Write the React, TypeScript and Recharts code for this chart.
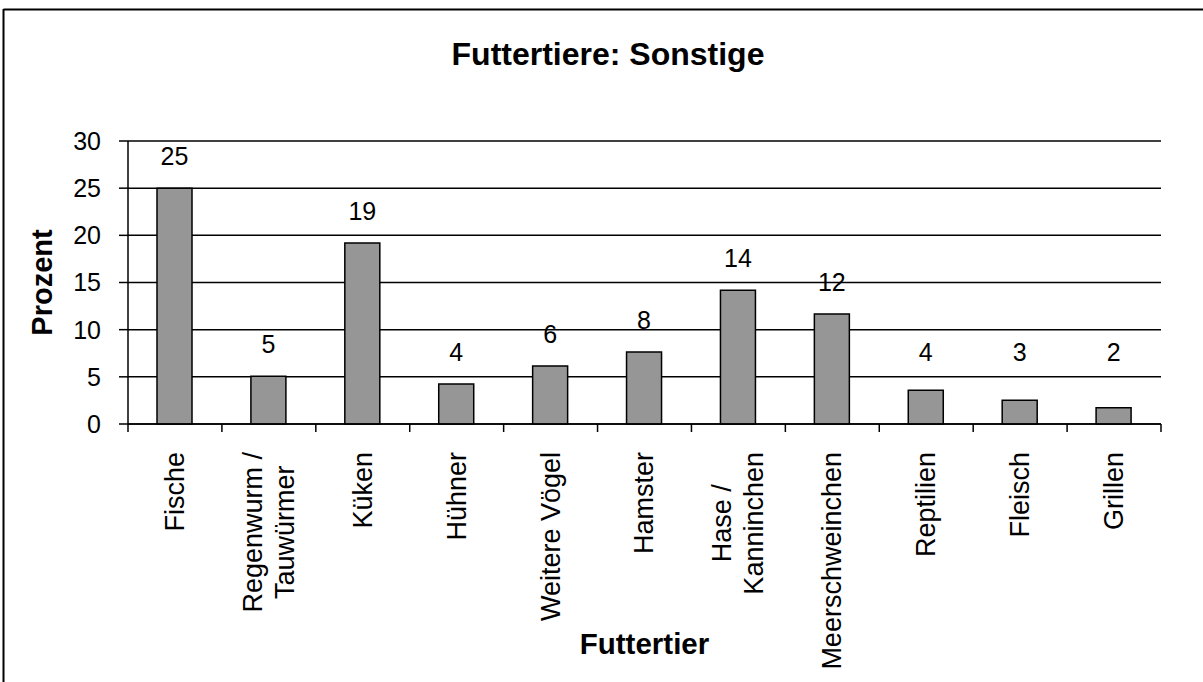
import React from 'react';
import { BarChart, Bar, XAxis, YAxis, CartesianGrid, LabelList } from 'recharts';

const categories = [
  'Fische',
  'Regenwurm /\nTauwürmer',
  'Küken',
  'Hühner',
  'Weitere Vögel',
  'Hamster',
  'Hase /\nKanninchen',
  'Meerschweinchen',
  'Reptilien',
  'Fleisch',
  'Grillen',
];
const values = [25, 5.05, 19.2, 4.24, 6.15, 7.63, 14.17, 11.66, 3.57, 2.52, 1.71];
const yTicks = [0, 5, 10, 15, 20, 25, 30];

const TITLE = 'Futtertiere: Sonstige';
const Y_TITLE = 'Prozent';
const X_TITLE = 'Futtertier';

const FONT = '"Liberation Sans", Arial, Helvetica, sans-serif';
const W = 1203;
const H = 682;
const MARGIN = { top: 141, right: 42, bottom: 0, left: 0 };
const Y_AXIS_W = 128;
const PLOT_W = W - MARGIN.left - MARGIN.right - Y_AXIS_W;
const BAND = PLOT_W / categories.length;

const data = categories.map((name, i) => ({ name, value: values[i] }));

let ctx: CanvasRenderingContext2D | null = null;
function measure(text: string, font: string): number {
  if (!ctx) {
    const c = document.createElement('canvas');
    ctx = c.getContext('2d');
  }
  if (!ctx) return text.length * 14;
  ctx.font = font;
  return ctx.measureText(text).width;
}

const CAT_SIZE = 27;
const LINE_GAP = 32;
const TICK_MARGIN = 28;
const TICK_LEN = 8;

const CatTick = (props: any) => {
  const { x, y, payload, index } = props;
  const lines: string[] = String(payload.value).split('\n');
  const maxW = Math.max(...lines.map((l) => measure(l, `${CAT_SIZE}px ${FONT}`)));
  const cy = y + maxW / 2;
  const n = lines.length;
  const axisY = y - TICK_MARGIN;
  const left = x - BAND / 2;
  const right = x + BAND / 2;
  return (
    <g>
      <line x1={left} y1={axisY} x2={left} y2={axisY + TICK_LEN} stroke="#000" strokeWidth={1.5} />
      {index === categories.length - 1 && (
        <line x1={right} y1={axisY} x2={right} y2={axisY + TICK_LEN} stroke="#000" strokeWidth={1.5} />
      )}
      {lines.map((l, i) => {
        const cx = x + (i - (n - 1) / 2) * LINE_GAP;
        return (
          <text
            key={i}
            x={cx}
            y={cy}
            transform={`rotate(-90 ${cx} ${cy})`}
            textAnchor="middle"
            dominantBaseline="central"
            fontFamily={FONT}
            fontSize={CAT_SIZE}
            fill="#000"
          >
            {l}
          </text>
        );
      })}
    </g>
  );
};

const ValueLabel = (props: any) => {
  const { x, y, width, height, value } = props;
  const cx = x + width / 2;
  const cy = Math.min(y - 32, y + height - 72);
  return (
    <text
      x={cx}
      y={cy}
      textAnchor="middle"
      dominantBaseline="central"
      fontFamily={FONT}
      fontSize={25}
      fill="#000"
    >
      {Math.round(Number(value))}
    </text>
  );
};

const YTitle = (props: any) => {
  const vb = props.viewBox || { x: 0, y: 141, width: 128, height: 283 };
  const cx = vb.x + 52;
  const cy = vb.y + vb.height / 2;
  return (
    <text
      x={cx}
      y={cy}
      transform={`rotate(-90 ${cx} ${cy})`}
      textAnchor="middle"
      fontFamily={FONT}
      fontWeight="bold"
      fontSize={29}
      fill="#000"
    >
      {Y_TITLE}
    </text>
  );
};

const XTitle = (props: any) => {
  const vb = props.viewBox || { x: 128, y: 424, width: 1033, height: 258 };
  const cx = vb.x + vb.width / 2;
  const cy = vb.y + 230;
  return (
    <text
      x={cx}
      y={cy}
      textAnchor="middle"
      fontFamily={FONT}
      fontWeight="bold"
      fontSize={29.5}
      fill="#000"
    >
      {X_TITLE}
    </text>
  );
};

export default function App() {
  return (
    <div style={{ position: 'absolute', left: 0, top: 0, width: W, height: H, background: '#fff' }}>
      <BarChart width={W} height={H} data={data} margin={MARGIN} barSize={35}>
        <CartesianGrid vertical={false} stroke="#000" strokeWidth={1.5} />
        <XAxis
          dataKey="name"
          height={258}
          interval={0}
          axisLine={{ stroke: '#000', strokeWidth: 1.5 }}
          tickLine={false}
          tickSize={0}
          tickMargin={TICK_MARGIN}
          tick={<CatTick />}
          label={<XTitle />}
        />
        <YAxis
          width={Y_AXIS_W}
          domain={[0, 30]}
          ticks={yTicks}
          interval={0}
          tickSize={9}
          tickMargin={18}
          axisLine={{ stroke: '#000', strokeWidth: 1.5 }}
          tickLine={{ stroke: '#000', strokeWidth: 1.5 }}
          tick={{ fontFamily: FONT, fontSize: 25, fill: '#000' }}
          label={<YTitle />}
        />
        <Bar dataKey="value" fill="#969696" stroke="#000" strokeWidth={1.5} isAnimationActive={false}>
          <LabelList dataKey="value" content={<ValueLabel />} />
        </Bar>
      </BarChart>
      <svg
        width={W}
        height={H}
        style={{ position: 'absolute', left: 0, top: 0, pointerEvents: 'none' }}
      >
        <line x1={3.5} y1={9} x2={3.5} y2={H} stroke="#000" strokeWidth={2} />
        <line x1={3.5} y1={9.5} x2={W} y2={9.5} stroke="#000" strokeWidth={2} />
        <text
          x={608}
          y={65}
          textAnchor="middle"
          fontFamily={FONT}
          fontWeight="bold"
          fontSize={32}
          fill="#000"
        >
          {TITLE}
        </text>
      </svg>
    </div>
  );
}
